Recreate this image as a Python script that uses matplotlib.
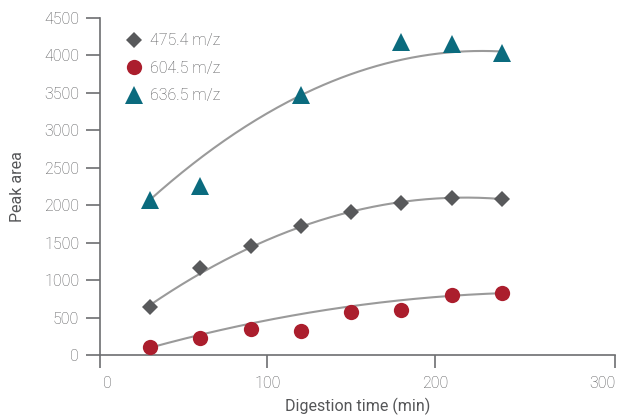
import numpy as np
import matplotlib
matplotlib.use("Agg")
import matplotlib.pyplot as plt
from matplotlib.transforms import ScaledTranslation

plt.rcParams['font.family'] = ['Roboto', 'DejaVu Sans']
plt.rcParams['font.weight'] = 'light'

# Peak areas over digestion time for three fragments
time_475 = [30, 60, 90, 120, 150, 180, 210, 240]
area_475 = [645, 1165, 1460, 1722, 1905, 2034, 2092, 2085]

time_604 = [30, 60, 90, 120, 150, 180, 210, 240]
area_604 = [111, 223, 343, 325, 570, 600, 801, 832]

time_636 = [30, 60, 120, 180, 210, 240]
area_636 = [2070, 2256, 3471, 4179, 4159, 4032]

# points along each fitted trend curve
trend_x_475 = [30, 90, 150, 210, 240]
trend_y_475 = [660, 1460, 1900, 2090, 2092]
trend_x_604 = [30, 120, 150, 210, 240]
trend_y_604 = [100, 534, 663, 792, 823]
trend_x_636 = [30, 60, 120, 180, 240]
trend_y_636 = [2096, 2600, 3471, 3958, 4045]

x_ticks = [0, 100, 200, 300]
y_ticks = [0, 500, 1000, 1500, 2000, 2500, 3000, 3500, 4000, 4500]

text_color = '#555658'
spine_color = '#6d6e71'
trend_color = '#9a9a9a'

series = [
    (time_475, area_475, trend_x_475, trend_y_475, 'D', 8.0, '#58595b', '475.4 m/z'),
    (time_604, area_604, trend_x_604, trend_y_604, 'o', 11.0, '#ab1e2d', '604.5 m/z'),
    (time_636, area_636, trend_x_636, trend_y_636, '^', 12.5, '#0b6b7e', '636.5 m/z'),
]

fig = plt.figure(figsize=(6.19, 4.15), dpi=100)
ax = fig.add_axes([100 / 619, 60 / 415, 515 / 619, 337 / 415])

for t, a, tx, ty, marker, ms, color, label in series:
    # second-order polynomial trend line
    coef = np.polyfit(tx, ty, 2)
    xs = np.linspace(min(t), max(t), 200)
    ax.plot(xs, np.polyval(coef, xs), color=trend_color, lw=1.5, zorder=2)
    ax.plot(t, a, linestyle='none', marker=marker, markersize=ms,
            color=color, markeredgewidth=0, label=label, zorder=3)

ax.set_xlim(0, 307.5)
ax.set_ylim(0, 4500)
ax.set_xticks(x_ticks)
ax.set_yticks(y_ticks)
ax.set_xticks([307.5], minor=True)
ax.tick_params(axis='x', which='both', direction='out', length=9, width=1.2,
               color=spine_color, labelcolor=text_color, labelsize=11.5, pad=6)
ax.tick_params(axis='y', direction='out', length=10, width=1.2,
               color=spine_color, labelcolor=text_color, labelsize=11.5, pad=5)

# last major tick keeps its label but the tick mark sits at the axis end
ax.xaxis.get_major_ticks()[-1].tick1line.set_visible(False)
xlabels = ax.get_xticklabels()
xlabels[0].set_transform(xlabels[0].get_transform()
                         + ScaledTranslation(7 / 100, 0, fig.dpi_scale_trans))

for side in ['top', 'right']:
    ax.spines[side].set_visible(False)
for side in ['left', 'bottom']:
    ax.spines[side].set_color(spine_color)
    ax.spines[side].set_linewidth(1.2)

ax.set_xlabel('Digestion time (min)', color=text_color, fontsize=11.5, labelpad=5)
ax.set_ylabel('Peak area', color=text_color, fontsize=11.5, labelpad=14)

leg = ax.legend(loc='upper left', bbox_to_anchor=(0.025, 0.988), frameon=False,
                fontsize=11.5, labelcolor=text_color, handletextpad=0.45,
                labelspacing=0.78, handlelength=1.2, borderaxespad=0.3)

fig.savefig('out.png', dpi=100)
